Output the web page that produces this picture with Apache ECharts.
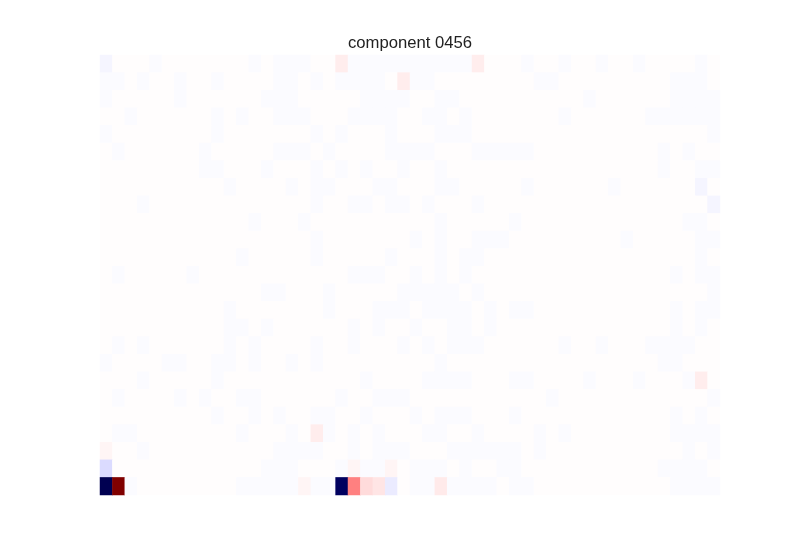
<!DOCTYPE html>
<html>
<head>
<meta charset="utf-8">
<script src="https://cdn.jsdelivr.net/npm/echarts@6/dist/echarts.min.js"></script>
<style>html,body{margin:0;padding:0;background:#fff;}#chart{width:800px;height:550px;}</style>
</head>
<body>
<div id="chart"></div>
<script>
// Title
const titleText = 'component 0456';

// Column / row categories (50 columns x 25 rows, row 0 at top)
const columns = Array.from({length: 50}, (_, i) => String(i));
const rows = Array.from({length: 25}, (_, i) => String(i));

// Estimated cell values, encoded per row (one character per cell)
const codeValues = {
  '.': 0.004, 'b': -0.007, 'B': -0.02, 'p': 0.02, 'P': 0.035,
  'k': 0.042, 'r': 0.05, 'q': 0.07, 'S': 0.25, 'l': -0.04,
  'L': -0.07, 'N': -0.99, 'M': -0.95, 'R': 1.0
};
const rowCodes = [
  "B...b....." + "..b.bbb..P" + "bbbbbbbbbb" + "P...b..b.." + "b..b....b.",
  "bb.b..b..b" + "....bb.b.b" + "bbb.Pbb..." + ".....bb..." + "......bbb.",
  "b.....b..." + "...bbb...." + ".bbbb..bb." + ".........b" + "......bbbb",
  "..b......b" + ".b..bbb..." + "bbbb..bb.b" + ".......b.." + "....bbbbbb",
  "b........b" + ".......b.b" + "...b...bbb" + ".........." + ".........b",
  ".b......b." + "....bbb.b." + "...bbbb..." + "bbbbb....." + ".....b.b..",
  "........bb" + "...b...b.b" + ".b..b..b.." + ".........." + ".....b..bb",
  ".........." + "b....b.bb." + "..bb...bb." + "....b....." + ".b......B.",
  "...b......" + ".......b.." + "bb.bb.b..." + "b........." + ".........B",
  ".........." + "..b...b..." + ".......b.." + "...b......" + ".......bb.",
  ".........." + ".......b.." + ".....b.b.." + "bbb......." + "..b.....bb",
  ".........." + ".b.....b.." + "...b...b.b" + "b........." + "........b.",
  ".b.....b.." + ".........." + "bbb..b.b.b" + ".........." + "......b.bb",
  ".........." + "...bb...b." + "....bbbbb." + "b........." + ".........b",
  ".........." + "b.......b." + "..bbb.bbbb" + ".b.bb....." + "......b.bb",
  ".........." + "bb.b......" + "b.b..b..bb" + ".b........" + "......b.b.",
  ".b.b......" + "b.b....b.." + "b...b.b.bb" + "b......b.." + "b...bbbb..",
  "b....bb..b" + "b.b..b.b.." + ".......b.." + ".........." + ".....bb...",
  "...b.....b" + ".........." + ".b....bbbb" + "...bb....b" + "...b...bP.",
  ".b....b.b." + ".bb......b" + "..bbb....." + "......b..." + ".........b",
  ".........b" + "..b.b..bb." + ".b...b.bbb" + "...b......" + "......b.b.",
  ".bb......." + ".b...b.Pb." + "b.b...bb.." + "b....b.b.." + "......bbbb",
  "p..b......" + "....bbbb.." + "b.bbb...bb" + "bbbb.b...." + ".......b.b",
  "L........." + "...bbb...b" + "pbbp.bbb.b" + "..bb......" + ".....bbbb.",
  "NRb......." + ".bbbbbpbbM" + "Sqrl.bbkbb" + "bb.bb....." + "......bbbb"
];

// Seismic colormap stops
const seismic = ['#00004d', '#0000ff', '#ffffff', '#ff0000', '#800000'];

const data = [];
rowCodes.forEach((codes, r) => {
  for (let c = 0; c < codes.length; c++) {
    data.push([c, r, codeValues[codes[c]]]);
  }
});

const chart = echarts.init(document.getElementById('chart'));
chart.setOption({
  backgroundColor: '#ffffff',
  animation: false,
  title: {
    text: titleText,
    left: 343,
    top: 30,
    textStyle: {fontFamily: 'Liberation Sans', fontSize: 16.67, fontWeight: 'normal', color: '#222222'}
  },
  grid: {left: 100, right: 80, top: 55, bottom: 55},
  xAxis: {
    type: 'category', data: columns,
    axisLine: {show: false}, axisTick: {show: false}, axisLabel: {show: false},
    splitLine: {show: false}, splitArea: {show: false}
  },
  yAxis: {
    type: 'category', data: rows, inverse: true,
    axisLine: {show: false}, axisTick: {show: false}, axisLabel: {show: false},
    splitLine: {show: false}, splitArea: {show: false}
  },
  visualMap: {
    show: false, min: -1, max: 1, calculable: false,
    inRange: {color: seismic}
  },
  series: [{
    type: 'heatmap',
    data: data,
    itemStyle: {borderWidth: 0},
    emphasis: {disabled: true}
  }]
});
</script>
</body>
</html>
